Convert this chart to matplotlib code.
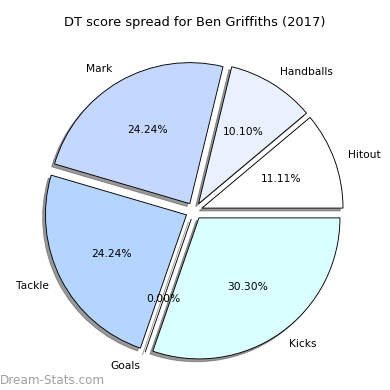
import matplotlib
matplotlib.use('Agg')
import matplotlib.pyplot as plt

# Daten
labels = ['Hitout', 'Handballs', 'Mark', 'Tackle', 'Goals', 'Kicks']
values = [11, 10, 24, 24, 0, 30]
colors = ['#ffffff', '#e9f1ff', '#c4d8ff', '#b4d5ff', '#c8e8ff', '#d9ffff']
explode = [0.06] * len(values)

fig = plt.figure(figsize=(390 / 72, 390 / 72), dpi=72)
ax = fig.add_axes([0.0455, 0.007, 0.904, 0.904])

ax.pie(values, labels=labels, colors=colors, explode=explode,
       autopct='%1.2f%%',
       shadow={'ox': -0.02, 'oy': -0.02, 'facecolor': '#555555',
               'edgecolor': '#555555', 'alpha': 0.6},
       startangle=0,
       wedgeprops={'edgecolor': 'black', 'linewidth': 0.9},
       textprops={'fontsize': 10.6})
ax.set_aspect('equal')

fig.text(0.5, 0.943, 'DT score spread for Ben Griffiths (2017)',
         ha='center', va='center', fontsize=13)
fig.text(0.0, 0.025, 'Dream-Stats.com', ha='left', va='center',
         fontsize=12, color='#a0a0a0')

fig.savefig('out.png', dpi=72)
